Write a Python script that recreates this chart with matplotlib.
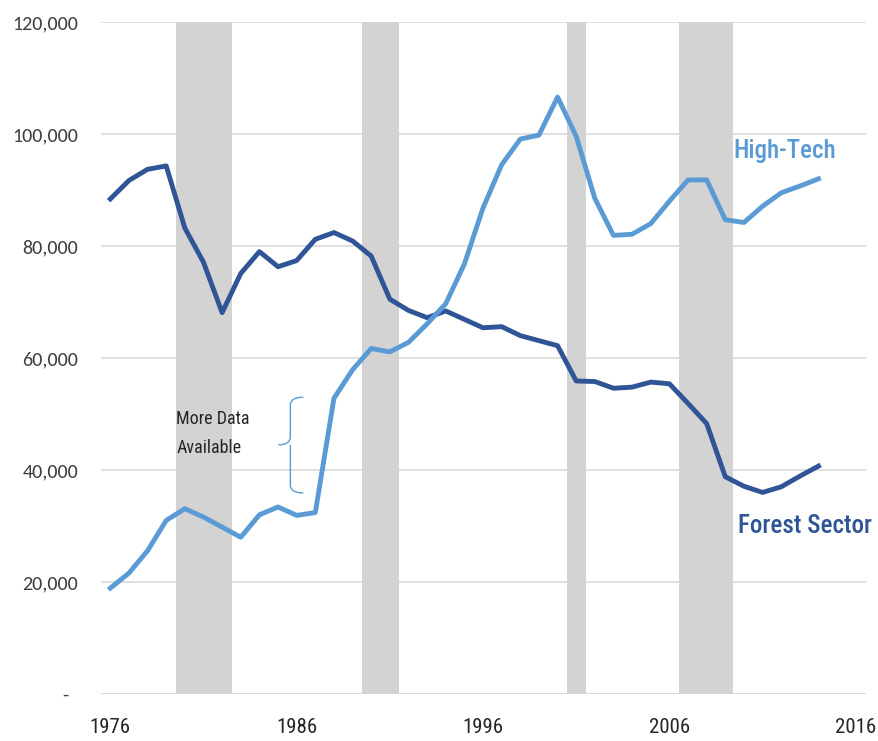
import matplotlib.pyplot as plt
from matplotlib.path import Path
from matplotlib.patches import PathPatch
from matplotlib.ticker import FuncFormatter

years = list(range(1976, 2015))
forest = [88.4, 91.7, 93.7, 94.3, 83.2, 77.1, 68.1, 75.1, 79.0, 76.3, 77.4, 81.2, 82.4,
          80.9, 78.2, 70.5, 68.5, 67.2, 68.4, 66.9, 65.4, 65.6, 64.0, 63.1, 62.2, 55.9,
          55.8, 54.6, 54.8, 55.7, 55.4, 51.9, 48.3, 38.8, 37.1, 36.0, 37.0, 38.9, 40.7]
hightech = [18.9, 21.6, 25.6, 31.0, 33.1, 31.6, 29.8, 28.0, 32.0, 33.4, 31.9, 32.4, 52.8,
            57.9, 61.7, 61.1, 62.8, 66.1, 69.7, 76.8, 86.8, 94.5, 99.1, 99.8, 106.6, 99.6,
            88.5, 81.9, 82.1, 84.0, 88.0, 91.8, 91.8, 84.7, 84.2, 87.1, 89.5, 90.7, 92.0]
forest = [v * 1000 for v in forest]
hightech = [v * 1000 for v in hightech]

recessions = [(1979.5, 1982.55), (1989.5, 1991.5), (2000.5, 2001.5), (2006.5, 2009.4)]
yticks = [0, 20000, 40000, 60000, 80000, 100000, 120000]
xticks = [1976, 1986, 1996, 2006, 2016]

DARK = "#2F5597"
LIGHT = "#5B9BD5"
NARROW = ["Roboto Condensed", "PT Sans Narrow", "DejaVu Sans"]
CALIBRI = ["Carlito", "Open Sans", "DejaVu Sans"]

fig = plt.figure(figsize=(8.79, 7.41), dpi=100)
ax = fig.add_axes([0.1149, 0.0634, 0.8703, 0.9069])

for start, end in recessions:
    ax.axvspan(start, end, color="#D3D3D3", lw=0, zorder=1)

ax.plot(years, forest, color=DARK, lw=3.5, solid_joinstyle="round", zorder=3)
ax.plot(years, hightech, color=LIGHT, lw=3.5, solid_joinstyle="round", zorder=3)

ax.set_xlim(1975.5, 2016.55)
ax.set_ylim(0, 120000)
ax.set_yticks(yticks)
ax.set_xticks(xticks)
ax.yaxis.set_major_formatter(
    FuncFormatter(lambda v, _: "-  " if v == 0 else f"{int(v):,}")
)
ax.grid(axis="y", color="#D9D9D9", lw=1.2, zorder=0)
ax.set_axisbelow(True)
for side in ["top", "right", "left", "bottom"]:
    ax.spines[side].set_visible(False)
ax.axhline(0, color="#D9D9D9", lw=1.2, zorder=0)
ax.tick_params(axis="both", length=0)
ax.tick_params(axis="y", pad=16.5, labelsize=14.5, labelcolor="#404040")
ax.tick_params(axis="x", pad=17, labelsize=15, labelcolor="#262626")
for lab in ax.get_yticklabels():
    lab.set_family(CALIBRI)
for lab in ax.get_xticklabels():
    lab.set_family(NARROW)

ax.text(2009.45, 95700, "High-Tech", color=LIGHT, fontsize=18, family=NARROW,
        fontweight="medium", va="baseline", ha="left")
ax.text(2009.7, 28750, "Forest Sector", color=DARK, fontsize=18, family=NARROW,
        fontweight="medium", va="baseline", ha="left", clip_on=False)

ax.text(1979.54, 48200, "More Data", fontsize=13, family=NARROW,
        color="#262626", va="baseline", ha="left")
ax.text(1979.54, 43000, "Available", fontsize=13, family=NARROW,
        color="#262626", va="baseline", ha="left")

# curly brace next to the note
xr, xm, xl = 1986.36, 1985.66, 1985.02
yt, yc, yb = 53000, 44500, 35900
verts = [(xr, yt), (xm, yt), (xm, yt - 1400),
         (xm, yc + 1400), (xm, yc), (xl, yc),
         (xm, yc), (xm, yc - 1400),
         (xm, yb + 1400), (xm, yb), (xr, yb)]
codes = [Path.MOVETO, Path.CURVE3, Path.CURVE3,
         Path.LINETO, Path.CURVE3, Path.CURVE3,
         Path.MOVETO, Path.LINETO,
         Path.LINETO, Path.CURVE3, Path.CURVE3]
ax.add_patch(PathPatch(Path(verts, codes), fill=False, edgecolor=LIGHT, lw=1.0, zorder=2))

fig.savefig("out.png", dpi=100)
